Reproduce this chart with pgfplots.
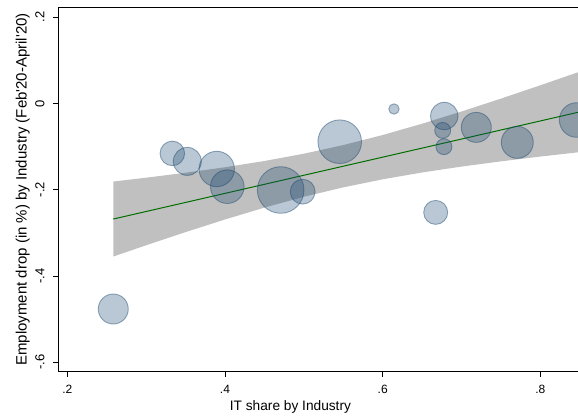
\documentclass[border=0pt]{standalone}
\usepackage{pgfplots}
\pgfplotsset{compat=1.18}
\usepackage{fontspec}
\setmainfont{Liberation Sans}
\definecolor{statanavy}{RGB}{26,71,111}
\definecolor{bandgray}{RGB}{192,192,192}
\definecolor{fitgreen}{RGB}{0,110,0}

\begin{document}
\begin{tikzpicture}
\path[use as bounding box] (-58pt,-45.3pt) rectangle (520pt,371.7pt);
\begin{axis}[
  name=ax,
  at={(0,0)}, anchor=south west,
  scale only axis, width=520pt, height=364.7pt,
  xmin=0.1882, xmax=0.8477, ymin=-0.6218, ymax=0.2234,
  axis x line*=bottom, axis y line*=left,
  axis line style={-, line width=0.8pt, black},
  xtick={0.2,0.4,0.6,0.8}, xticklabels={.2,.4,.6,.8},
  ytick={-0.6,-0.4,-0.2,0,0.2}, yticklabels={-.6,-.4,-.2,0,.2},
  tick align=outside, major tick length=5pt,
  tick style={black, line width=0.6pt},
  xticklabel style={font=\fontsize{12}{14}\selectfont, yshift=-5pt},
  yticklabel style={font=\fontsize{13}{15}\selectfont, rotate=90, anchor=south, yshift=5pt},
  xlabel={IT share by Industry},
  xlabel style={font=\fontsize{13.7}{16}\selectfont, at={(axis description cs:0.447,0)}, anchor=base, yshift=-38.5pt},
  ylabel={Employment drop (in \%) by Industry (Feb\textquotesingle 20-April\textquotesingle 20)},
  ylabel style={font=\fontsize{15}{17}\selectfont, at={(axis description cs:0,0.5)}, anchor=base, yshift=31.3pt},
]
% confidence band
\addplot[fill=bandgray, draw=none] coordinates {
(0.2583,-0.1811) (0.30,-0.1722) (0.35,-0.1607) (0.40,-0.1480) (0.45,-0.1335)
(0.50,-0.1166) (0.55,-0.0966) (0.60,-0.0733) (0.65,-0.0471) (0.70,-0.0188)
(0.75,0.0111) (0.80,0.0420) (0.848,0.0723)
(0.848,-0.1133) (0.80,-0.1232) (0.75,-0.1343) (0.70,-0.1464) (0.65,-0.1601)
(0.60,-0.1759) (0.55,-0.1946) (0.50,-0.2164) (0.45,-0.2415) (0.40,-0.2690)
(0.35,-0.2983) (0.30,-0.3288) (0.2583,-0.3549)
} --cycle;
% bubbles
\addplot[scatter, only marks, mark=*,
  scatter/use mapped color={draw=statanavy, fill=statanavy},
  mark options={fill opacity=0.3, draw opacity=0.45, line width=0.9pt},
  visualization depends on={\thisrow{r} \as \rr},
  scatter/@pre marker code/.append style={/tikz/mark size=\rr}]
table[x=x, y=y] {
x y r
0.2583 -0.4765 15
0.3332 -0.1159 12.3
0.3522 -0.1344 14
0.3895 -0.1520 17.7
0.4029 -0.1930 16.8
0.4706 -0.2007 23.3
0.4985 -0.2046 12.4
0.5455 -0.0888 21.8
0.6143 -0.0130 5.2
0.6781 -0.0292 13.7
0.6761 -0.0626 8
0.6777 -0.1003 8
0.6672 -0.2526 12
0.7187 -0.0556 15
0.7707 -0.0903 16
0.8460 -0.0385 17.3
};
% fitted line
\addplot[fitgreen, line width=1pt] coordinates {(0.2583,-0.2680) (0.848,-0.0205)};
\end{axis}
\draw[line width=0.8pt] (ax.north west) -- (ax.north east);
\end{tikzpicture}
\end{document}
